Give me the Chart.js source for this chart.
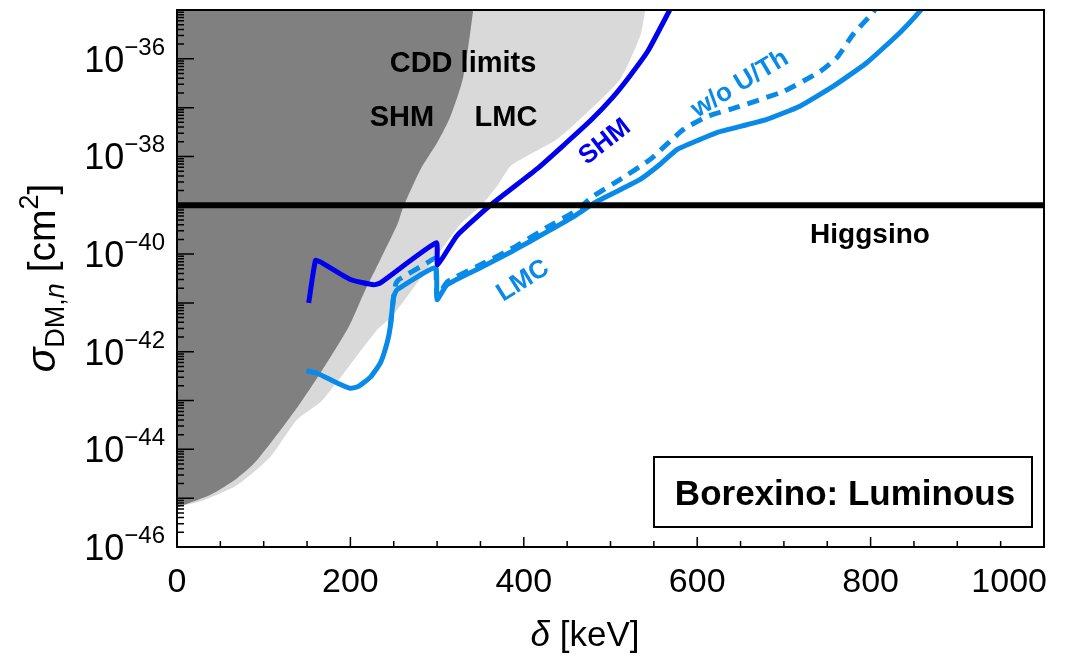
<!DOCTYPE html>
<html>
<head>
<meta charset="utf-8">
<title>Borexino: Luminous</title>
<script src="https://cdn.jsdelivr.net/npm/chart.js@4"></script>
<style>
  html, body { margin: 0; padding: 0; background: #fff; }
</style>
</head>
<body>
<canvas id="c" width="1088" height="656"></canvas>
<script>
// ---- data (delta in keV, cross section as log10 of cm^2) ----
const higgsinoLog = -39;

// CDD limit, SHM (dark gray region, excluded above the curve)
const cddShmDelta = [0, 15.6, 38.6, 69.4, 92.4, 144.3, 196.2, 217.3, 234.6, 254.2, 261.1, 280.7, 300.3, 315.3, 330.3, 341.8, 344];
const cddShmLog   = [-45.19, -45.09, -44.93, -44.59, -44.22, -43.0, -41.55, -40.73, -40.11, -39.39, -39.03, -38.27, -37.71, -37.18, -36.36, -34.98, -34.5];

// CDD limit, LMC (light gray region)
const cddLmcDelta = [0, 30.9, 69.4, 107.8, 138.6, 167.4, 230.8, 249.9, 326.8, 349.9, 369.1, 384.4, 403.7, 438.3, 476.7, 511.2, 534.3, 540.1, 541.5];
const cddLmcLog   = [-45.18, -45.04, -44.73, -44.15, -43.39, -43.0, -41.55, -41.24, -39.39, -39.02, -38.61, -38.20, -37.99, -37.65, -37.04, -36.42, -35.53, -34.98, -34.5];

// Borexino, SHM
const shmDelta = [151.9, 159.7, 165.4, 200, 226.9, 234.6, 299, 300.5, 323, 361.4, 415.6, 447.8, 476.7, 502, 522.8, 543.5, 568.9, 572.4];
const shmLog   = [-41.0, -40.13, -40.16, -40.52, -40.63, -40.59, -39.77, -40.22, -39.62, -39.0, -38.25, -37.74, -37.27, -36.8, -36.34, -35.83, -34.98, -34.86];

// Borexino, LMC
const lmcDelta = [149.3, 161.6, 184.7, 200, 209.2, 223, 234.6, 242.3, 246.1, 249.9, 253.8, 298, 300, 311.5, 349.9, 387.9, 427.1, 459.4, 482.4, 511.2, 534.3, 557.3, 576.6, 603.5, 622.7, 680.3, 718.4, 757.1, 795.6, 834, 857.1, 860.6];
const lmcLog   = [-42.39, -42.44, -42.64, -42.75, -42.71, -42.52, -42.23, -41.82, -41.48, -40.87, -40.73, -40.28, -40.93, -40.63, -40.28, -39.93, -39.54, -39.21, -38.94, -38.68, -38.47, -38.16, -37.86, -37.65, -37.51, -37.24, -36.97, -36.56, -36.08, -35.46, -35.02, -34.9];

// Borexino, LMC w/o U/Th (dashed)
const noUThDelta = [246.1, 249.9, 252.5, 256, 288.4, 298, 300, 311.5, 349.9, 387.9, 427.1, 459.4, 480.5, 511.2, 545.8, 583.9, 611.5, 646.1, 699.1, 741.8, 761.4, 779.8, 802.9, 806.3];
const noUThLog   = [-41.48, -40.87, -40.6, -40.52, -40.18, -40.09, -40.89, -40.57, -40.22, -39.87, -39.45, -39.12, -38.81, -38.47, -38.06, -37.45, -37.18, -36.99, -36.67, -36.26, -35.97, -35.50, -35.05, -34.94];

// axes
const xTicks = [0, 200, 400, 600, 800, 1000];
const xMinorStep = 50;
const yTickExps = [-46, -44, -42, -40, -38, -36];
const yMinExp = -46, yMaxExp = -35;

const DARK_BLUE = '#0000ee';
const LIGHT_BLUE = '#0a8ae8';
const FONT = '"Liberation Sans", Arial, Helvetica, sans-serif';

function pts(xs, logs) {
  return xs.map((d, i) => ({ x: d, y: Math.pow(10, logs[i]) }));
}

function font(p) {
  return (p.italic ? 'italic ' : '') + (p.bold ? 'bold ' : '') + p.size + 'px ' + FONT;
}

// draw a run of text parts (for super/subscripts) on one baseline
function drawParts(ctx, parts, x, y, align) {
  let w = 0;
  parts.forEach(p => { ctx.font = font(p); p.w = ctx.measureText(p.t).width; w += p.w; });
  let cx = align === 'right' ? x - w : align === 'center' ? x - w / 2 : x;
  ctx.textAlign = 'left';
  parts.forEach(p => { ctx.font = font(p); ctx.fillText(p.t, cx, y + (p.dy || 0)); cx += p.w; });
}

function rotLabel(ctx, text, x, y, deg, size, color) {
  ctx.save();
  ctx.translate(x, y);
  ctx.rotate(deg * Math.PI / 180);
  ctx.fillStyle = color;
  ctx.font = 'bold ' + size + 'px ' + FONT;
  ctx.textAlign = 'center';
  ctx.textBaseline = 'middle';
  ctx.fillText(text, 0, 0);
  ctx.restore();
}

const decor = {
  id: 'decor',
  afterDatasetsDraw(chart) {
    const { ctx, chartArea: a, scales: { x, y } } = chart;
    ctx.save();
    ctx.strokeStyle = '#000';
    ctx.fillStyle = '#000';

    // y ticks (inside)
    ctx.lineWidth = 1.5;
    ctx.beginPath();
    for (let e = yMinExp; e <= yMaxExp; e++) {
      for (let k = 1; k <= 9; k++) {
        if (e === yMaxExp && k > 1) break;
        const py = y.getPixelForValue(k * Math.pow(10, e));
        const len = k === 1 ? 17 : 7;
        ctx.moveTo(a.left, py);
        ctx.lineTo(a.left + len, py);
      }
    }
    // x ticks (inside)
    for (let v = 0; v <= 1000; v += xMinorStep) {
      const px = x.getPixelForValue(v);
      const len = xTicks.includes(v) ? 10 : 6;
      ctx.moveTo(px, a.bottom);
      ctx.lineTo(px, a.bottom - len);
    }
    ctx.stroke();

    // frame
    ctx.lineWidth = 2;
    ctx.strokeRect(a.left, a.top, a.right - a.left, a.bottom - a.top);

    // tick labels
    ctx.textBaseline = 'alphabetic';
    xTicks.forEach((v, i) => {
      const last = i === xTicks.length - 1;
      const px = x.getPixelForValue(v);
      drawParts(ctx, [{ t: String(v), size: 34 }], last ? px + 3 : px, a.bottom + 45, last ? 'right' : 'center');
    });
    yTickExps.forEach(e => {
      const py = y.getPixelForValue(Math.pow(10, e));
      drawParts(ctx, [
        { t: '10', size: 36 },
        { t: '\u2212' + Math.abs(e), size: 24, dy: -17 }
      ], a.left - 12, py + 13, 'right');
    });

    // axis titles
    drawParts(ctx, [
      { t: '\u03b4', size: 35, italic: true },
      { t: ' [keV]', size: 35 }
    ], 585, 646, 'center');

    ctx.save();
    ctx.translate(55, 278);
    ctx.rotate(-Math.PI / 2);
    drawParts(ctx, [
      { t: '\u03c3', size: 41, italic: true },
      { t: 'DM,', size: 27, dy: 9 },
      { t: 'n', size: 27, italic: true, dy: 9 },
      { t: ' [cm', size: 39 },
      { t: '2', size: 27, dy: -17 },
      { t: ']', size: 39 }
    ], 0, 0, 'center');
    ctx.restore();

    // region labels
    drawParts(ctx, [{ t: 'CDD limits', size: 29, bold: true }], 463, 72, 'center');
    drawParts(ctx, [{ t: 'SHM', size: 29, bold: true }], 402, 126, 'center');
    drawParts(ctx, [{ t: 'LMC', size: 29, bold: true }], 506, 126, 'center');
    drawParts(ctx, [{ t: 'Higgsino', size: 28, bold: true }], 870, 243, 'center');

    rotLabel(ctx, 'SHM', 605, 142, -38, 26, DARK_BLUE);
    rotLabel(ctx, 'w/o U/Th', 740, 84, -31, 26, LIGHT_BLUE);
    rotLabel(ctx, 'LMC', 523, 281, -32, 26, LIGHT_BLUE);

    // legend box
    ctx.fillStyle = '#fff';
    ctx.fillRect(654, 457, 378, 70);
    ctx.lineWidth = 2;
    ctx.strokeStyle = '#000';
    ctx.strokeRect(654, 457, 378, 70);
    ctx.fillStyle = '#000';
    drawParts(ctx, [{ t: 'Borexino: Luminous', size: 35, bold: true }], 845, 505, 'center');

    ctx.restore();
  }
};

const lineBase = { pointRadius: 0, fill: false, tension: 0.15, clip: 0, borderJoinStyle: 'round', borderCapStyle: 'butt' };

new Chart(document.getElementById('c'), {
  type: 'line',
  data: {
    datasets: [
      { ...lineBase, label: 'Higgsino', data: pts([0, 1000], [higgsinoLog, higgsinoLog]), borderColor: '#000', borderWidth: 6, tension: 0 },
      { ...lineBase, label: 'SHM', data: pts(shmDelta, shmLog), borderColor: DARK_BLUE, borderWidth: 5 },
      { ...lineBase, label: 'w/o U/Th', data: pts(noUThDelta, noUThLog), borderColor: LIGHT_BLUE, borderWidth: 5, borderDash: [12, 8] },
      { ...lineBase, label: 'LMC', data: pts(lmcDelta, lmcLog), borderColor: LIGHT_BLUE, borderWidth: 5 },
      { ...lineBase, label: 'CDD SHM', data: pts(cddShmDelta, cddShmLog), borderWidth: 0, borderColor: 'rgba(0,0,0,0)', backgroundColor: '#808080', fill: 'end', tension: 0.25 },
      { ...lineBase, label: 'CDD LMC', data: pts(cddLmcDelta, cddLmcLog), borderWidth: 0, borderColor: 'rgba(0,0,0,0)', backgroundColor: '#d9d9d9', fill: 'end', tension: 0.2 }
    ]
  },
  options: {
    responsive: false,
    animation: false,
    events: [],
    layout: { padding: { left: 177, right: 44, top: 10, bottom: 109 } },
    plugins: { legend: { display: false }, tooltip: { enabled: false } },
    scales: {
      x: { type: 'linear', min: 0, max: 1000, display: false },
      y: { type: 'logarithmic', min: Math.pow(10, yMinExp), max: Math.pow(10, yMaxExp), display: false }
    }
  },
  plugins: [decor]
});
</script>
</body>
</html>
